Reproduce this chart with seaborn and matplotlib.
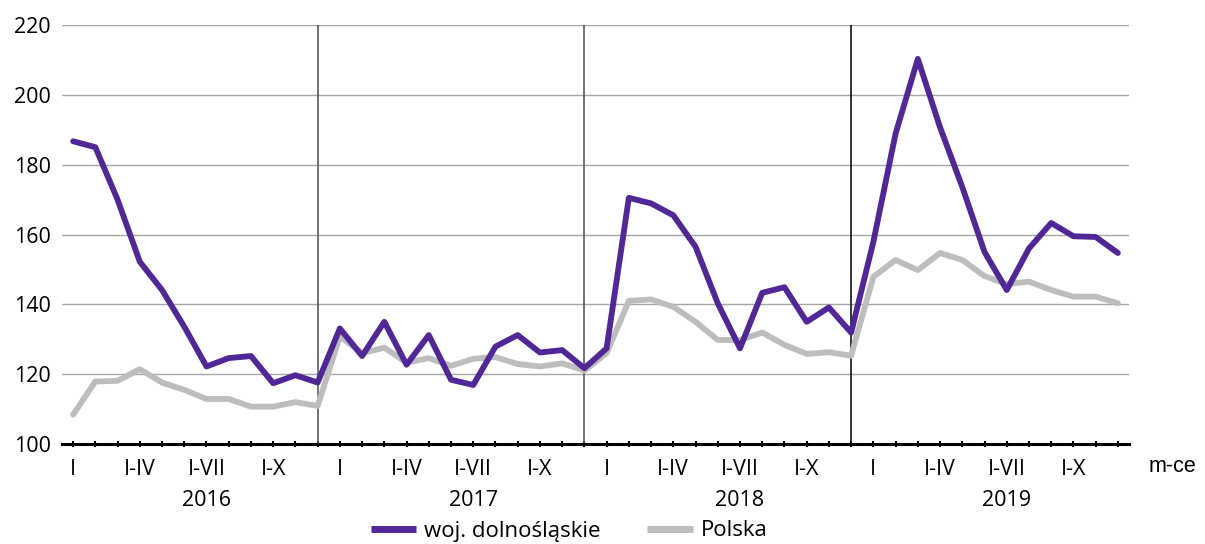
import numpy as np
import pandas as pd
import matplotlib
matplotlib.use("Agg")
import matplotlib.pyplot as plt
import seaborn as sns
from matplotlib.lines import Line2D

years = ["2016", "2017", "2018", "2019"]
month_labels = ["I", "I-IV", "I-VII", "I-X"]

dolnoslaskie = [
    186.7, 185.0, 170.0, 152.2, 144.1, 133.6, 122.2, 124.6, 125.2, 117.4, 119.7, 117.6,
    133.1, 125.2, 135.0, 122.7, 131.2, 118.4, 116.9, 127.9, 131.2, 126.2, 126.9, 121.7,
    127.4, 170.5, 168.9, 165.5, 156.5, 140.3, 127.4, 143.3, 144.9, 135.0, 139.1, 131.9,
    157.9, 188.9, 210.3, 190.7, 173.6, 155.0, 144.1, 156.0, 163.3, 159.5, 159.3, 154.7,
]
polska = [
    108.4, 117.9, 118.1, 121.4, 117.6, 115.5, 112.9, 112.9, 110.7, 110.7, 112.0, 110.9,
    130.8, 126.0, 127.6, 123.3, 124.6, 122.4, 124.4, 124.9, 122.9, 122.2, 123.1, 121.0,
    126.0, 141.0, 141.4, 139.3, 135.0, 129.8, 129.8, 131.9, 128.4, 125.8, 126.3, 125.3,
    147.9, 152.7, 149.8, 154.7, 152.7, 148.1, 145.8, 146.5, 144.1, 142.2, 142.2, 140.3,
]
series_names = ["woj. dolnośląskie", "Polska"]
colors = {"woj. dolnośląskie": "#512698", "Polska": "#bdbdbd"}

n = len(dolnoslaskie)
idx = np.arange(n)
df = pd.DataFrame({
    "idx": np.concatenate([idx, idx]),
    "value": polska + dolnoslaskie,
    "series": ["Polska"] * n + ["woj. dolnośląskie"] * n,
})

sns.set_theme(style="white")
plt.rcParams["font.family"] = ["Open Sans", "DejaVu Sans"]
plt.rcParams["text.color"] = "black"
FS = 15.5

fig = plt.figure(figsize=(12.05, 5.44), dpi=100)
ax = fig.add_axes([62 / 1205, 1 - 444 / 544, (1129 - 62) / 1205, (444 - 25) / 544])

sns.lineplot(data=df, x="idx", y="value", hue="series", palette=colors,
             hue_order=["Polska", "woj. dolnośląskie"], linewidth=4.2,
             legend=False, ax=ax, zorder=3)

ax.set_xlim(-0.5, n - 0.5)
ax.set_ylim(100, 220)
ax.set_yticks(np.arange(100, 221, 20))
ax.yaxis.grid(True, color="#a6a6a6", linewidth=1.0)
ax.xaxis.grid(False)
ax.set_xlabel("")
ax.set_ylabel("")
for s in ["top", "left", "right"]:
    ax.spines[s].set_visible(False)
ax.spines["bottom"].set_color("black")
ax.spines["bottom"].set_linewidth(2.2)
ax.spines["bottom"].set_zorder(4)

ax.set_xticks(idx)
ax.set_xticklabels([])
ax.tick_params(axis="x", direction="inout", length=5, width=1.5, color="black", bottom=True)
ax.tick_params(axis="y", length=0, pad=8, labelsize=FS, labelcolor="black")

# year separators
sep_colors = ["#5a5a5a", "#5a5a5a", "#111111"]
for k, c in zip(range(1, len(years)), sep_colors):
    ax.axvline(12 * k - 1, color=c, linewidth=1.2, zorder=2)

trans = ax.get_xaxis_transform()
for y_i, yr in enumerate(years):
    for m_i, ml in enumerate(month_labels):
        ax.text(12 * y_i + 3 * m_i, -0.062, ml, transform=trans, ha="center", va="center",
                fontsize=FS, color="black")
    ax.text(12 * y_i + 6, -0.134, yr, transform=trans, ha="center", va="center",
            fontsize=FS, color="black")

fig.text(1172 / 1205, 1 - 467 / 544, "m-ce", ha="center", va="center",
         fontsize=15.5, family=["Liberation Sans", "DejaVu Sans"], color="black")

handles = [Line2D([0], [0], color=colors[s], linewidth=5, solid_capstyle="butt")
           for s in series_names]
leg = fig.legend(handles, series_names, loc="center", bbox_to_anchor=(569 / 1205, 1 - 531 / 544),
                 ncol=2, frameon=False, fontsize=FS + 0.5, handlelength=2.05, handletextpad=0.35,
                 columnspacing=2.1, borderpad=0, borderaxespad=0)
for t in leg.get_texts():
    t.set_color("black")

fig.savefig("out.png", dpi=100)
